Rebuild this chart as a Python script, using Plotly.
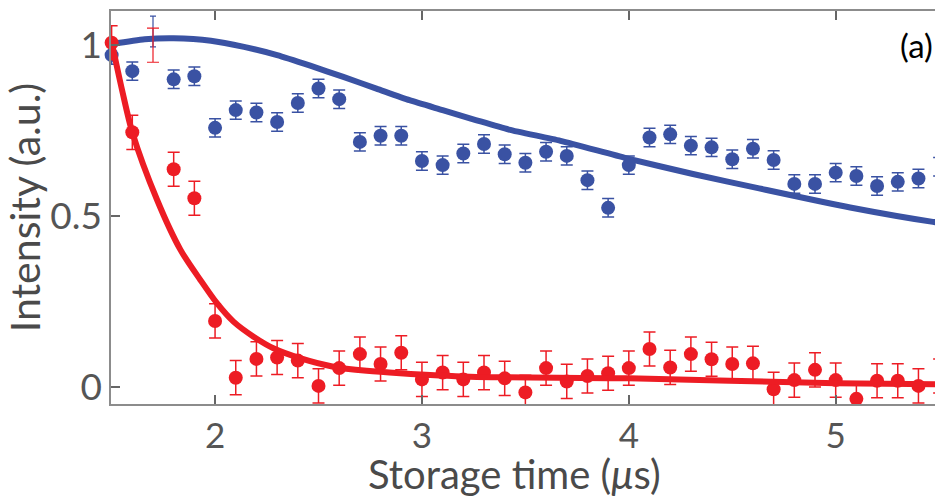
import plotly.graph_objects as go

# ---- data ----
blue_x = [1.5, 1.6, 1.8, 1.9, 2.0, 2.1, 2.2, 2.3, 2.4, 2.5, 2.6, 2.7, 2.8, 2.9,
          3.0, 3.1, 3.2, 3.3, 3.4, 3.5, 3.6, 3.7, 3.8, 3.9, 4.0, 4.1, 4.2, 4.3,
          4.4, 4.5, 4.6, 4.7, 4.8, 4.9, 5.0, 5.1, 5.2, 5.3, 5.4, 5.5]
blue_y = [0.971, 0.924, 0.900, 0.909, 0.758, 0.810, 0.803, 0.775, 0.831, 0.873,
          0.842, 0.717, 0.735, 0.735, 0.661, 0.649, 0.683, 0.711, 0.681, 0.656,
          0.688, 0.676, 0.605, 0.524, 0.649, 0.730, 0.739, 0.706, 0.701, 0.666,
          0.697, 0.664, 0.594, 0.594, 0.627, 0.617, 0.588, 0.600, 0.610, 0.644]
blue_err = 0.027

red_x = [1.5, 1.6, 1.8, 1.9, 2.0, 2.1, 2.2, 2.3, 2.4, 2.5, 2.6, 2.7, 2.8, 2.9,
         3.0, 3.1, 3.2, 3.3, 3.4, 3.5, 3.6, 3.7, 3.8, 3.9, 4.0, 4.1, 4.2, 4.3,
         4.4, 4.5, 4.6, 4.7, 4.8, 4.9, 5.0, 5.1, 5.2, 5.3, 5.4, 5.5]
red_y = [1.007, 0.745, 0.637, 0.552, 0.193, 0.027, 0.082, 0.086, 0.077, 0.003,
         0.055, 0.096, 0.067, 0.100, 0.022, 0.042, 0.022, 0.042, 0.025, -0.016,
         0.055, 0.016, 0.032, 0.040, 0.055, 0.111, 0.057, 0.096, 0.081, 0.067,
         0.069, -0.007, 0.020, 0.050, 0.020, -0.035, 0.018, 0.018, 0.003, 0.032]
red_err = 0.05

# point at 1.7 µs: error bars only (no marker visible)
lone_x = [1.7]
lone_blue_y = [1.04]
lone_red_y = [1.0]

# fitted curves (read at sample positions)
bfit_x = [1.5, 1.66, 1.80, 1.98, 2.14, 2.30, 2.46, 2.62, 2.78, 2.94, 3.10, 3.26,
          3.42, 3.67, 3.99, 4.31, 4.63, 5.07, 5.47, 5.55]
bfit_y = [1.003, 1.017, 1.020, 1.013, 0.995, 0.971, 0.940, 0.907, 0.873, 0.839,
          0.810, 0.781, 0.753, 0.720, 0.669, 0.623, 0.581, 0.525, 0.483, 0.477]

rfit_x = [1.5, 1.55, 1.60, 1.72, 1.833, 1.929, 2.009, 2.089, 2.186, 2.282, 2.411,
          2.572, 2.733, 2.894, 3.232, 4.0, 5.0, 5.55]
rfit_y = [1.01, 0.87, 0.745, 0.547, 0.401, 0.313, 0.245, 0.191, 0.147, 0.113, 0.084,
          0.059, 0.047, 0.040, 0.030, 0.025, 0.011, 0.007]

x_ticks = [2, 3, 4, 5]
y_ticks = [0, 0.5, 1]
y_ticktext = ["0", "0.5", "1"]

BLUE = "#3a52a3"
RED = "#ed1c24"
FONT = "Lato"

fig = go.Figure()

fig.add_trace(go.Scatter(x=bfit_x, y=bfit_y, mode="lines",
                         line=dict(color=BLUE, width=6, shape="spline", smoothing=0.6),
                         cliponaxis=True, hoverinfo="skip"))
fig.add_trace(go.Scatter(x=blue_x, y=blue_y, mode="markers",
                         marker=dict(color=BLUE, size=14),
                         error_y=dict(type="constant", value=blue_err, color=BLUE,
                                      thickness=1.5, width=6),
                         cliponaxis=False))
fig.add_trace(go.Scatter(x=lone_x, y=lone_blue_y, mode="markers",
                         marker=dict(color=BLUE, size=1, opacity=0),
                         error_y=dict(type="constant", value=0.045, color=BLUE,
                                      thickness=1.2, width=3),
                         cliponaxis=False))
fig.add_trace(go.Scatter(x=red_x, y=red_y, mode="markers",
                         marker=dict(color=RED, size=14),
                         error_y=dict(type="constant", value=red_err, color=RED,
                                      thickness=1.5, width=6),
                         cliponaxis=False))
fig.add_trace(go.Scatter(x=lone_x, y=lone_red_y, mode="markers",
                         marker=dict(color=RED, size=1, opacity=0),
                         error_y=dict(type="constant", value=0.05, color=RED,
                                      thickness=1.2, width=6),
                         cliponaxis=False))
fig.add_trace(go.Scatter(x=rfit_x, y=rfit_y, mode="lines",
                         line=dict(color=RED, width=6, shape="spline", smoothing=0.8),
                         cliponaxis=True, hoverinfo="skip"))

fig.update_layout(
    width=935, height=499,
    margin=dict(l=111, r=0, t=11, b=95),
    paper_bgcolor="white", plot_bgcolor="white",
    showlegend=False,
    font=dict(family=FONT, color="#555555"),
    xaxis=dict(range=[1.497, 5.48], tickvals=x_ticks, ticks="inside", ticklen=9,
               tickcolor="#666666", tickwidth=1.5, showline=True, linecolor="#8c8c8c",
               linewidth=1.5, mirror="ticks", showgrid=False, zeroline=False,
               tickfont=dict(size=35, family=FONT, color="#555555")),
    yaxis=dict(range=[-0.05, 1.1], tickvals=y_ticks, ticktext=y_ticktext,
               ticks="inside", ticklen=9, tickcolor="#666666", tickwidth=1.5,
               showline=True, linecolor="#8c8c8c", linewidth=1.5, mirror=False,
               showgrid=False, zeroline=False,
               tickfont=dict(size=37, family=FONT, color="#555555"),
               title=dict(text="Intensity (a.u.)", standoff=8,
                          font=dict(size=41, family=FONT, color="#4a4a4a"))),
    annotations=[
        dict(text="(a)", xref="paper", yref="paper", x=0.955, y=0.913,
             xanchor="left", yanchor="middle", showarrow=False,
             font=dict(size=33, family=FONT, color="black")),
        dict(text="Storage time (<i>μ</i>s)", xref="paper", yref="paper",
             x=0.49, y=-0.177, xanchor="center", yanchor="middle", showarrow=False,
             font=dict(size=40, family=FONT, color="#4a4a4a")),
    ],
)

fig.write_html("out.html", config={"displayModeBar": False},
               post_script="document.body.style.margin='0';document.body.style.overflow='hidden';")
